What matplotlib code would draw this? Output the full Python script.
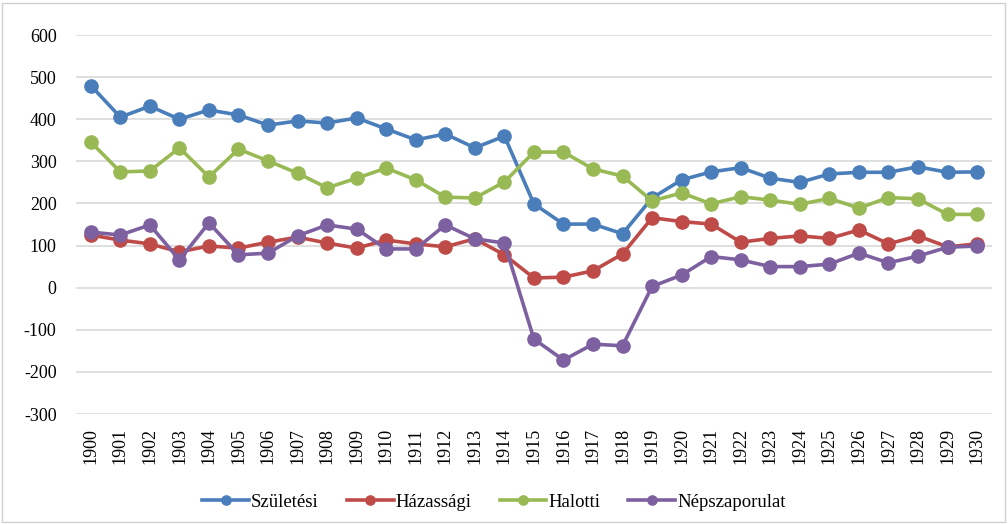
import numpy as np
import matplotlib
matplotlib.use("Agg")
import matplotlib.pyplot as plt
from matplotlib.patches import Rectangle

years = [str(y) for y in range(1900, 1931)]

szuletesi = [480, 405, 431, 400, 422, 410, 386, 396, 391, 403, 377, 351, 365, 332, 360,
             199, 151, 151, 128, 213, 256, 275, 285, 260, 250, 270, 274, 274, 287, 274, 275]
hazassagi = [125, 113, 104, 85, 99, 94, 108, 120, 106, 94, 113, 104, 97, 116, 78,
             23, 25, 40, 80, 166, 157, 151, 108, 117, 123, 117, 137, 104, 123, 97, 104]
halotti = [346, 275, 277, 332, 263, 329, 301, 272, 237, 260, 284, 256, 215, 213, 251,
           322, 322, 282, 265, 206, 225, 199, 216, 208, 198, 212, 189, 214, 211, 174, 174]
nepszaporulat = [132, 125, 149, 66, 154, 78, 82, 123, 149, 139, 92, 92, 149, 116, 106,
                 -122, -172, -134, -138, 3, 30, 74, 66, 50, 50, 56, 82, 59, 75, 96, 99]

series = [("Születési", szuletesi, "#4A7EBB"),
          ("Házassági", hazassagi, "#BE4B48"),
          ("Halotti", halotti, "#98B954"),
          ("Népszaporulat", nepszaporulat, "#7D60A0")]

plt.rcParams['font.family'] = ['Liberation Serif', 'DejaVu Serif']
plt.rcParams['axes.unicode_minus'] = False

fig = plt.figure(figsize=(10.08, 5.24), dpi=100)
ax = fig.add_axes([0.0754, 0.2099, 0.9086, 0.7233])

x = np.arange(len(years))
for name, vals, col in series:
    ax.plot(x, vals, color=col, lw=2.6, marker='o', markersize=9.5, label=name)

ax.set_xlim(-0.5, len(years) - 0.5)
ax.set_ylim(-300, 600)
ax.set_yticks(range(-300, 601, 100))
ax.set_xticks(x)
ax.set_xticklabels(years, rotation=90, fontsize=13)
ax.tick_params(axis='y', labelsize=13, length=0, pad=14)
ax.tick_params(axis='x', length=0, pad=10)
ax.grid(axis='y', color='#D9D9D9', lw=1.2)
ax.set_axisbelow(True)
for s in ax.spines.values():
    s.set_visible(False)

fig.legend(loc='center', bbox_to_anchor=(0.49, 0.042), ncol=4, frameon=False,
           fontsize=13.5, handlelength=2.5, columnspacing=1.5, handletextpad=0.1,
           markerscale=0.7)

fig.patches.append(Rectangle((0.002, 0.004), 0.995, 0.99, transform=fig.transFigure,
                             fill=False, edgecolor='#D0D0D0', lw=1))

fig.savefig("out.png", dpi=100)
